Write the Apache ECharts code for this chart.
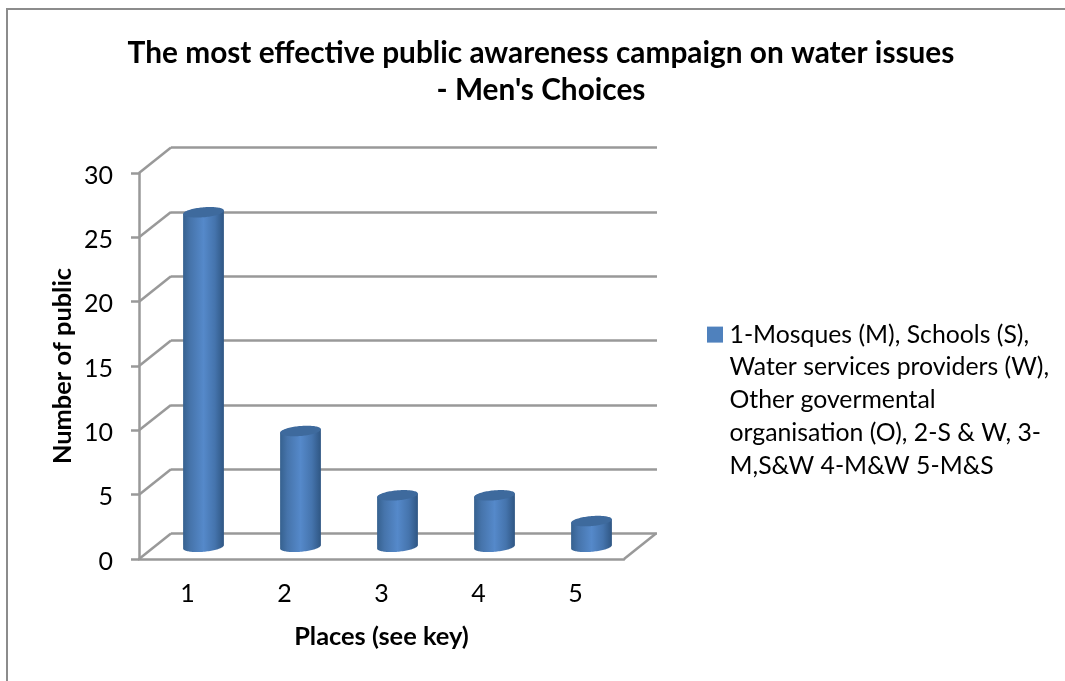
<!DOCTYPE html>
<html>
<head>
<meta charset="utf-8">
<style>html,body{margin:0;padding:0;background:#fff}#chart{width:1065px;height:681px}</style>
<script src="https://cdn.jsdelivr.net/npm/echarts@6/dist/echarts.min.js"></script>
</head>
<body>
<div id="chart"></div>
<script>
// Survey results: men's choice of public awareness campaign
const categories = ['1', '2', '3', '4', '5'];
const publicCounts = [26, 9, 4, 4, 2];
const valueTicks = [0, 5, 10, 15, 20, 25, 30];
const titleText = "The most effective public awareness campaign on water issues\n- Men's Choices";
const xAxisTitle = 'Places (see key)';
const yAxisTitle = 'Number of public';
const seriesName = '1-Mosques (M), Schools (S),\nWater services providers (W),\nOther govermental\norganisation (O), 2-S & W, 3-\nM,S&W 4-M&W 5-M&S';

const FONT = 'Lato';
const AXIS_GRAY = '#999999';
const AXIS_WIDTH = 2.5;
const DEPTH_X = 32;   // horizontal shift from front plane to back wall
const DEPTH_Y = -25.4;  // vertical shift from front plane to back wall

// Wall and floor edges that join the front axes to the back wall
function renderDepthEdges(params, api) {
  const rect = params.coordSys;
  const y = api.coord([0, api.value(1)])[1];
  const lineStyle = { stroke: AXIS_GRAY, lineWidth: AXIS_WIDTH, fill: null };
  const children = [{
    type: 'line',
    shape: { x1: rect.x, y1: y, x2: rect.x + DEPTH_X, y2: y + DEPTH_Y },
    style: lineStyle
  }];
  if (api.value(1) === 0) {
    const right = rect.x + rect.width;
    children.push({
      type: 'line',
      shape: { x1: right, y1: y, x2: right + DEPTH_X, y2: y + DEPTH_Y },
      style: lineStyle
    });
  }
  return { type: 'group', children };
}

// Cylinder standing halfway between the front plane and the back wall
function renderCylinder(params, api) {
  const base = api.coord([api.value(0), 0]);
  const top = api.coord([api.value(0), api.value(1)]);
  const cx = base[0] + DEPTH_X / 2;
  const yBase = base[1] + DEPTH_Y / 2 + 0.5;
  const yTop = top[1] + DEPTH_Y / 2 + 0.5;
  const a = 20.4, b = 5, tilt = 1.7;
  const rim = (cy, t) => [cx + a * Math.cos(t), cy + b * Math.sin(t) - tilt * Math.cos(t)];

  const steps = 48;
  const body = [rim(yTop, Math.PI), rim(yTop, 0)];
  for (let i = 0; i <= steps; i++) body.push(rim(yBase, Math.PI * i / steps));
  const cap = [];
  for (let i = 0; i < steps * 2; i++) cap.push(rim(yTop, Math.PI * i / steps));

  return {
    type: 'group',
    children: [{
      type: 'polygon',
      shape: { points: body },
      style: {
        fill: new echarts.graphic.LinearGradient(0, 0, 1, 0, [
          { offset: 0, color: '#36618f' },
          { offset: 0.18, color: '#4674ab' },
          { offset: 0.5, color: '#5589ca' },
          { offset: 0.78, color: '#4574ad' },
          { offset: 1, color: '#2f5683' }
        ])
      }
    }, {
      type: 'polygon',
      shape: { points: cap },
      style: { fill: '#3e6a9d' }
    }]
  };
}

const chart = echarts.init(document.getElementById('chart'), null, { renderer: 'canvas' });
chart.setOption({
  animation: false,
  backgroundColor: '#fff',
  textStyle: { fontFamily: FONT },
  title: {
    text: titleText,
    left: 536,
    top: 30,
    textAlign: 'center',
    textStyle: { fontFamily: FONT, fontSize: 29.8, fontWeight: 'bold', color: '#000', lineHeight: 37 }
  },
  legend: {
    data: [{ name: seriesName, icon: 'path://M0,0H15V15H0Z', itemStyle: { color: '#4f81bd' } }],
    left: 702,
    top: 182,
    orient: 'vertical',
    itemWidth: 19,
    itemHeight: 16,
    symbolKeepAspect: true,
    selectedMode: false,
    // blank leading lines keep the swatch level with the first line of the key
    formatter: name => '\n\n\n\n' + name,
    textStyle: { fontFamily: FONT, fontSize: 24.8, color: '#000', lineHeight: 32.8 }
  },
  grid: [
    { left: 139, top: 173, width: 485, height: 386 },
    { left: 171, top: 147.6, width: 486, height: 386 }
  ],
  xAxis: [{
    gridIndex: 0,
    type: 'category',
    data: categories,
    name: xAxisTitle,
    nameLocation: 'middle',
    nameGap: 65,
    nameTextStyle: { fontFamily: FONT, fontSize: 25.4, fontWeight: 'bold', color: '#000' },
    axisLine: { lineStyle: { color: AXIS_GRAY, width: AXIS_WIDTH } },
    axisTick: { show: false },
    axisLabel: { fontFamily: FONT, fontSize: 25, color: '#000', margin: 22 }
  }, {
    gridIndex: 1,
    type: 'category',
    data: categories,
    show: false
  }],
  yAxis: [{
    gridIndex: 0,
    type: 'value',
    min: 0,
    max: 30,
    interval: 5,
    name: yAxisTitle,
    nameLocation: 'middle',
    nameRotate: 90,
    nameGap: 64,
    nameTextStyle: { fontFamily: FONT, fontSize: 25.4, fontWeight: 'bold', color: '#000' },
    axisLine: { show: true, lineStyle: { color: AXIS_GRAY, width: AXIS_WIDTH } },
    axisTick: { show: true, length: 8, lineStyle: { color: AXIS_GRAY, width: AXIS_WIDTH } },
    axisLabel: {
      fontFamily: FONT, fontSize: 25, color: '#000', margin: 26,
      formatter: '{v|{value}}',
      rich: { v: { fontFamily: FONT, fontSize: 25, color: '#000', padding: [5, 0, 0, 0] } }
    },
    splitLine: { show: false }
  }, {
    gridIndex: 1,
    type: 'value',
    min: 0,
    max: 30,
    interval: 5,
    axisLine: { show: false },
    axisTick: { show: false },
    axisLabel: { show: false },
    splitLine: { show: true, lineStyle: { color: AXIS_GRAY, width: AXIS_WIDTH } }
  }],
  series: [{
    type: 'custom',
    name: 'depth edges',
    xAxisIndex: 0,
    yAxisIndex: 0,
    silent: true,
    z: 1,
    renderItem: renderDepthEdges,
    encode: { x: 0, y: 1 },
    data: valueTicks.map(v => [0, v])
  }, {
    type: 'custom',
    name: seriesName,
    xAxisIndex: 0,
    yAxisIndex: 0,
    z: 5,
    itemStyle: { color: '#4f81bd' },
    renderItem: renderCylinder,
    encode: { x: 0, y: 1 },
    data: publicCounts.map((v, i) => [i, v])
  }],
  graphic: [{
    type: 'polyline',
    silent: true,
    shape: { points: [[7, 681], [7, 9], [1065, 9]] },
    style: { stroke: '#8c8c8c', lineWidth: 2, fill: null }
  }]
});
</script>
</body>
</html>
